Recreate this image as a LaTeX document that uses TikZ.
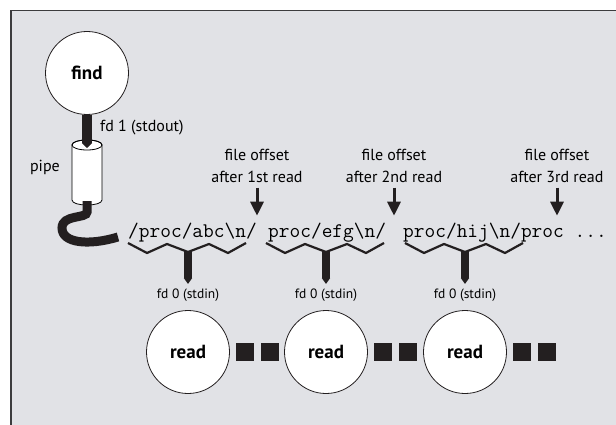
\documentclass[tikz,border=0pt]{standalone}
\usepackage{fontspec}
\setmainfont{PT Sans}
\usetikzlibrary{arrows.meta}

\colorlet{inkblack}{black}
\definecolor{inkblack}{RGB}{35,31,32}
\definecolor{bggray}{RGB}{225,226,230}
\definecolor{framegray}{RGB}{60,60,62}

\begin{document}
\begin{tikzpicture}
    [x=1pt, y=-1pt,
    %Styles for processes, texts and arrows
    proc/.style={circle,draw=inkblack,line width=0.8pt,fill=white,minimum size=83pt,
        inner sep=0pt,font=\fontsize{19}{22}\selectfont\bfseries},
    note/.style={inner sep=0pt,font=\fontsize{16}{21.5}\selectfont},
    fdtext/.style={inner sep=0pt,font=\fontsize{13.5}{16}\selectfont},
    bytes/.style={inner sep=0pt,anchor=base west,font=\fontsize{20.8}{24}\ttfamily},
    offarrow/.style={line width=3pt,inkblack,-{Triangle[width=13pt,length=14pt]}},
    brace/.style={line width=2.2pt,inkblack,line join=miter},
    stdin/.style={line width=8pt,inkblack,-{Triangle[width=8pt,length=6pt]}},
    block/.style={fill=inkblack,minimum size=18pt,inner sep=0pt}]

    % Frame
    \useasboundingbox (0,0) rectangle (616,425);
    \clip (0,0) rectangle (616,425);
    \fill[white] (0,0) rectangle (616,425);
    \draw[fill=bggray,draw=framegray,line width=1.5pt] (11,10.5) rectangle (640,450);

    % Writer and pipe
    \node[proc] (find) at (87,73) {find};
    \node[note,anchor=west] (stdout) at (100,128) {fd 1 (stdout)};
    \coordinate (pipetop) at (87,145);
    \coordinate (fdout) at (87,148);
    \coordinate (pipebot) at (87,201);
    \coordinate (cableend) at (118,237);
    \draw[line width=0.8pt,fill=white] (72,145) -- (72,200)
        .. controls (72,206.7) and (102,206.7) .. (102,200) -- (102,145)
        .. controls (102,138.3) and (72,138.3) .. (72,145) -- cycle;
    \draw[line width=0.8pt] (pipetop) ellipse [x radius=15, y radius=5];
    \node[note,anchor=east] (pipe) at (60,167) {pipe};
    \draw[line width=10pt,inkblack,-{Triangle[width=10pt,length=5pt]}] (find.south) -- (fdout);
    \draw[line width=9pt,inkblack] (pipebot) -- (87,212)
        .. controls (87,219) and (62,214) .. (62,228)
        .. controls (62,243) and (88,246) .. (cableend);

    % Bytes in the pipe
    \node[bytes] (str1) at (128,237) {/proc/abc\textbackslash n/};
    \node[bytes] (str2) at (268,237) {proc/efg\textbackslash n/};
    \node[bytes] (str3) at (403,237) {proc/hij\textbackslash n/proc ...};

    % File offsets
    \node[note,align=center] (off1) at (257,166) {file offset\\after 1st read};
    \node[note,align=center] (off2) at (394,166) {file offset\\after 2nd read};
    \node[note,align=center] (off3) at (557,166) {file offset\\after 3rd read};
    \foreach \n in {1,2,3}
        \draw[offarrow,shorten <=5pt] (off\n.south) -- ++(0,33) coordinate (cut\n);

    % Readers
    \foreach \cx/\n in {188/1, 326/2, 465/3} {
        \draw[brace] (\cx-60,243) -- (\cx-41,253) -- (\cx-21,244) -- (\cx,252)
            -- (\cx+21,244) -- (\cx+40,253) -- (\cx+58,243);
        \coordinate (mid\n) at (\cx,251);
        \coordinate (tip\n) at (\cx,284);
        \draw[stdin] (mid\n) -- (tip\n);
        \node[fdtext] (fd\n) at (\cx,295) {fd 0 (stdin)};
        \node[proc] (read\n) at (\cx,352) {read};
        \node[block] (blk\n a) at (\cx+57,352) {};
        \node[block] (blk\n b) at (\cx+82,352) {};
    }
\end{tikzpicture}
\end{document}
